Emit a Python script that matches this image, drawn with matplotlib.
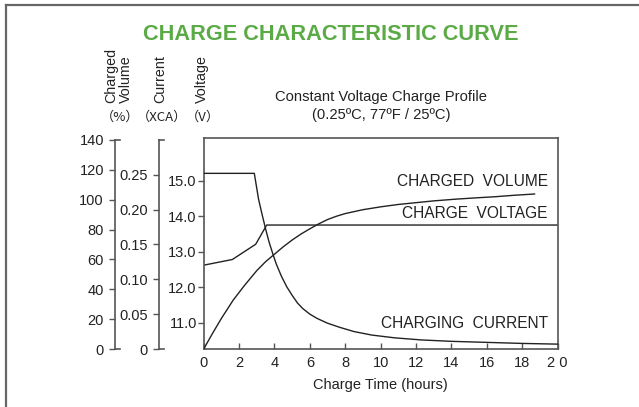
import matplotlib
matplotlib.use("Agg")
import matplotlib.pyplot as plt
from matplotlib.lines import Line2D
from matplotlib.transforms import blended_transform_factory

plt.rcParams['font.family'] = ['Liberation Sans', 'DejaVu Sans']

# --- data ---
cur_t = [0, 2.86, 3.1, 3.3, 3.5, 3.7, 3.9, 4.1, 4.4, 4.7, 5.0, 5.3, 5.6, 6.0, 6.4,
         7.0, 7.7, 8.5, 9.5, 10.8, 12.3, 14.0, 16.0, 18.0, 20.0]
cur_ca = [0.252, 0.252, 0.215, 0.193, 0.172, 0.153, 0.137, 0.122, 0.104, 0.089,
          0.077, 0.066, 0.058, 0.050, 0.044, 0.037, 0.031, 0.025, 0.020, 0.016,
          0.013, 0.011, 0.0095, 0.008, 0.007]

vol_t = [0, 0.5, 1.0, 1.67, 2.3, 3.0, 3.5, 4.0, 4.5, 5.0, 5.5, 6.0, 6.5, 7.0, 7.5,
         8.0, 9.0, 10.0, 11.0, 12.0, 13.0, 14.3, 15.5, 16.5, 17.6, 18.7]
vol_pct = [0, 10.5, 20.5, 32.8, 42.5, 52.5, 58.5, 63.5, 68.5, 73, 77, 80.5, 83.8, 86.7,
           88.9, 90.7, 93.3, 95.2, 96.8, 98, 99.2, 100.4, 101.3, 102, 103, 103.8]

volt_t = [0, 1.62, 2.94, 3.56, 20]
volt_v = [12.62, 12.78, 13.21, 13.75, 13.75]

x_ticks = [0, 2, 4, 6, 8, 10, 12, 14, 16, 18, 20]
x_labels = ["0", "2", "4", "6", "8", "10", "12", "14", "16", "18", "2 0"]
volt_ticks = [11.0, 12.0, 13.0, 14.0, 15.0]
cur_ticks = [0, 0.05, 0.10, 0.15, 0.20, 0.25]
cur_labels = ["0", "0.05", "0.10", "0.15", "0.20", "0.25"]
vol_ticks = [0, 20, 40, 60, 80, 100, 120, 140]

GREEN = "#5aab45"
SPINE = "#555555"
INK = "#222222"

fig = plt.figure(figsize=(6.39, 4.07), dpi=100)

# outer frame (left and top only)
fig.add_artist(Line2D([5.5 / 639, 5.5 / 639], [0, 1 - 4.5 / 407], color="#666666", lw=1.6))
fig.add_artist(Line2D([5.5 / 639, 1], [1 - 4.5 / 407, 1 - 4.5 / 407], color="#666666", lw=1.6))

ax = fig.add_axes([0.3188, 0.1425, 0.5537, 0.5184])
ax.set_xlim(0, 20)
ax.set_ylim(10.26, 16.2)
for s in ax.spines.values():
    s.set_color(SPINE)
    s.set_linewidth(1.2)
ax.set_xticks(x_ticks)
ax.set_xticklabels(x_labels)
ax.set_yticks(volt_ticks)
ax.set_yticklabels([f"{v:.1f}" for v in volt_ticks])
ax.tick_params(axis="x", direction="in", length=4, width=1, color=SPINE,
               labelsize=10.5, labelcolor=INK, pad=5)
ax.tick_params(axis="y", direction="out", length=4, width=1, color=SPINE,
               labelsize=10.5, labelcolor=INK, pad=1)
ax.set_xlabel("Charge Time (hours)", fontsize=10.5, color=INK, labelpad=6)

# extra y axes on the left: current and charged volume
ax_cur = ax.twinx()
ax_vol = ax.twinx()
for a, pos, top, ylim_top, ticks, labels in [
        (ax_cur, -0.1263, 0.30, 0.3027, cur_ticks, cur_labels),
        (ax_vol, -0.2507, 140, 141.3, vol_ticks, [str(v) for v in vol_ticks])]:
    a.set_ylim(0, ylim_top)
    for name in ["top", "right", "bottom"]:
        a.spines[name].set_visible(False)
    a.spines["left"].set_visible(True)
    a.spines["left"].set_position(("axes", pos))
    a.spines["left"].set_bounds(0, top)
    a.spines["left"].set_color(SPINE)
    a.spines["left"].set_linewidth(1.2)
    a.yaxis.set_ticks_position("left")
    a.set_yticks(ticks)
    a.set_yticklabels(labels)
    a.tick_params(axis="y", direction="out", length=4, width=1, color=SPINE,
                  labelsize=10.5, labelcolor=INK, pad=4)
    tr = blended_transform_factory(ax.transAxes, a.transData)
    for yy in (0, top):
        a.plot([pos, pos + 0.014], [yy, yy], transform=tr, color=SPINE,
               lw=1.2, clip_on=False)

# curves
ax.plot(volt_t, volt_v, color=INK, lw=1.0)
ax_cur.plot(cur_t, cur_ca, color=INK, lw=1.0)
ax_vol.plot(vol_t, vol_pct, color=INK, lw=1.0)

# curve names
ax.text(19.45, 14.97, "CHARGED  VOLUME", ha="right", va="center", fontsize=11.2, color=INK)
ax.text(19.45, 14.08, "CHARGE  VOLTAGE", ha="right", va="center", fontsize=11.2, color=INK)
ax.text(19.45, 10.99, "CHARGING  CURRENT", ha="right", va="center", fontsize=11.2, color=INK)

# title and header texts
fig.text(331 / 639, 1 - 34 / 407, "CHARGE CHARACTERISTIC CURVE", ha="center", va="center",
         fontsize=15.7, fontweight="bold", color=GREEN)
fig.text(381 / 639, 1 - 97 / 407, "Constant Voltage Charge Profile", ha="center", va="center",
         fontsize=10.6, color=INK)
fig.text(381 / 639, 1 - 115 / 407, "(0.25ºC, 77ºF / 25ºC)", ha="center", va="center",
         fontsize=10.6, color=INK)

for x, label in [(118.5, "Charged\nVolume"), (160, "Current"), (202, "Voltage")]:
    fig.text(x / 639, 1 - 103 / 407, label, rotation=90, ha="center", va="bottom",
             multialignment="left", fontsize=10.3, color=INK, linespacing=1.05)

cjk = ['Noto Sans CJK JP', 'Liberation Sans', 'DejaVu Sans']
for x, label in [(120, "（%）"), (162, "（XCA）"), (203, "（V）")]:
    fig.text(x / 639, 1 - 117 / 407, label, ha="center", va="center",
             fontsize=9.5, color=INK, family=cjk)

fig.savefig("out.png", dpi=100)
